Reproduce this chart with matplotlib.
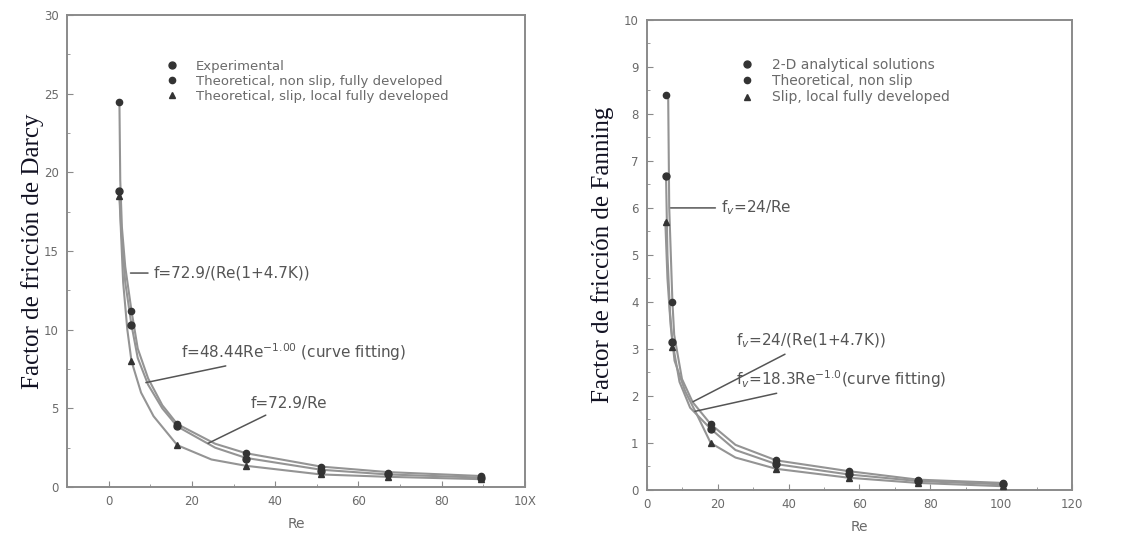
import matplotlib.pyplot as plt
from matplotlib.ticker import MultipleLocator

# ---- left panel data (Darcy) ----
re_darcy = [2.6, 5.5, 16.5, 33, 51, 67, 89.5]
f_exp = [18.8, 10.3, 3.9, 1.8, 1.05, 0.8, 0.6]
f_nonslip = [24.5, 11.2, 4.0, 2.15, 1.3, 0.9, 0.7]
f_slip = [18.5, 8.0, 2.66, 1.35, 0.8, 0.65, 0.5]

# curves
curve_up_re = [2.6, 2.8, 3.2, 4.0, 5.5, 7.0, 9.5, 12.9, 16.5, 25.6, 33, 51, 67, 89.5]
curve_up_f = [24.5, 19.5, 16.5, 14.0, 11.2, 8.8, 6.9, 5.2, 4.0, 2.75, 2.15, 1.3, 0.95, 0.7]
curve_mid_re = [2.6, 3.0, 4.0, 5.5, 7.0, 9.5, 12.9, 16.5, 25.6, 33, 51, 67, 89.5]
curve_mid_f = [18.8, 16.5, 13.0, 10.3, 8.2, 6.5, 5.0, 3.85, 2.5, 1.85, 1.1, 0.8, 0.6]
curve_low_re = [2.6, 3.5, 4.5, 5.5, 7.8, 10.8, 16.5, 24.7, 33, 51, 67, 89.5]
curve_low_f = [18.5, 13.0, 10.0, 8.0, 6.0, 4.5, 2.66, 1.75, 1.35, 0.8, 0.65, 0.5]

legend_darcy = ['Experimental', 'Theoretical, non slip, fully developed',
                'Theoretical, slip, local fully developed']

# ---- right panel data (Fanning) ----
re_fan = [5.4, 7.2, 18, 36.5, 57, 76.5, 100.5]
f_2d = [6.67, 3.15, 1.3, 0.55, 0.33, 0.19, 0.12]
f_fan_nonslip = [8.4, 4.0, 1.4, 0.63, 0.4, 0.22, 0.15]
f_fan_slip = [5.7, 3.05, 1.0, 0.45, 0.26, 0.15, 0.08]

fan_a_re = [6.0, 6.3, 7.2, 7.7, 9.9, 12.9, 18, 25, 36.5, 57, 76.5, 100.5]
fan_a_f = [8.4, 6.0, 4.0, 3.3, 2.36, 1.87, 1.4, 0.96, 0.63, 0.4, 0.22, 0.15]
fan_b_re = [5.4, 5.8, 6.5, 7.2, 9.2, 12.2, 18, 25, 36.5, 57, 76.5, 100.5]
fan_b_f = [6.67, 5.0, 3.8, 3.15, 2.3, 1.75, 1.3, 0.85, 0.55, 0.33, 0.19, 0.12]
fan_c_re = [5.2, 5.8, 6.7, 7.8, 10.8, 14.2, 18, 25, 36.5, 57, 76.5, 100.5]
fan_c_f = [5.7, 4.5, 3.5, 2.75, 2.1, 1.59, 1.0, 0.69, 0.45, 0.26, 0.15, 0.08]

legend_fan = ['2-D analytical solutions', 'Theoretical, non slip',
              'Slip, local fully developed']

line_col = '#949494'
mark_col = '#333333'
text_col = '#6a6a6a'
note_col = '#555555'
serif = ['Liberation Serif', 'DejaVu Serif']

fig = plt.figure(figsize=(11.29, 5.46), dpi=100)
ax1 = fig.add_axes([0.0593, 0.108, 0.4057, 0.8645])
ax2 = fig.add_axes([0.573, 0.1026, 0.3765, 0.861])


def style_axes(ax):
    for s in ax.spines.values():
        s.set_color('#8a8a8a')
        s.set_linewidth(1.4)
    ax.tick_params(which='both', direction='in', colors='#8a8a8a',
                   labelcolor=text_col, labelsize=8.5)
    ax.tick_params(which='major', length=4, pad=6)
    ax.tick_params(which='minor', length=2)


# ---- left panel ----
for xs, ys in [(curve_up_re, curve_up_f), (curve_mid_re, curve_mid_f),
               (curve_low_re, curve_low_f)]:
    ax1.plot(xs, ys, color=line_col, lw=1.5, zorder=2)
ax1.plot(re_darcy, f_exp, 'o', color=mark_col, ms=5, ls='none', zorder=3, label=legend_darcy[0])
ax1.plot(re_darcy, f_nonslip, 'o', color=mark_col, ms=4.5, ls='none', zorder=3, label=legend_darcy[1])
ax1.plot(re_darcy, f_slip, '^', color=mark_col, ms=4.5, ls='none', zorder=3, label=legend_darcy[2])

ax1.set_xlim(-10, 100)
ax1.set_ylim(0, 30)
ax1.xaxis.set_minor_locator(MultipleLocator(10))
ax1.yaxis.set_major_locator(MultipleLocator(5))
ax1.yaxis.set_minor_locator(MultipleLocator(2.5))
ax1.set_xticks([0, 20, 40, 60, 80, 100])
ax1.set_xticklabels(['0', '20', '40', '60', '80', '10X'])
style_axes(ax1)
ax1.set_xlabel('Re', color=text_col, fontsize=10, labelpad=6)
ax1.set_ylabel('Factor de fricción de Darcy', family=serif, fontsize=18,
               color='#111122', labelpad=0)
ax1.legend(loc='upper left', bbox_to_anchor=(0.19, 0.93), frameon=False,
           fontsize=9.5, labelcolor=text_col, handletextpad=1.3, labelspacing=0.15,
           handlelength=1)

arrow = dict(arrowstyle='-', color=note_col, lw=1.1)
ax1.annotate('f=72.9/(Re(1+4.7K))', xy=(4.6, 13.6), xytext=(10.8, 13.6),
             va='center', fontsize=11, color=note_col, arrowprops=arrow)
ax1.annotate('f=48.44Re$^{-1.00}$ (curve fitting)', xy=(8.3, 6.6), xytext=(17.4, 8.6),
             va='center', fontsize=11, color=note_col, arrowprops=arrow)
ax1.annotate('f=72.9/Re', xy=(23.3, 2.7), xytext=(34.2, 5.3),
             va='center', fontsize=11, color=note_col, arrowprops=arrow)

# ---- right panel ----
for xs, ys in [(fan_a_re, fan_a_f), (fan_b_re, fan_b_f), (fan_c_re, fan_c_f)]:
    ax2.plot(xs, ys, color=line_col, lw=1.5, zorder=2)
ax2.plot(re_fan, f_2d, 'o', color=mark_col, ms=5, ls='none', zorder=3, label=legend_fan[0])
ax2.plot(re_fan, f_fan_nonslip, 'o', color=mark_col, ms=4.5, ls='none', zorder=3, label=legend_fan[1])
ax2.plot(re_fan, f_fan_slip, '^', color=mark_col, ms=4.5, ls='none', zorder=3, label=legend_fan[2])

ax2.set_xlim(0, 120)
ax2.set_ylim(0, 10)
ax2.xaxis.set_major_locator(MultipleLocator(20))
ax2.xaxis.set_minor_locator(MultipleLocator(10))
ax2.yaxis.set_major_locator(MultipleLocator(1))
ax2.yaxis.set_minor_locator(MultipleLocator(0.5))
style_axes(ax2)
ax2.set_xlabel('Re', color=text_col, fontsize=10, labelpad=6)
ax2.set_ylabel('Factor de fricción de Fanning', family=serif, fontsize=18,
               color='#111122', labelpad=7)
ax2.legend(loc='upper left', bbox_to_anchor=(0.19, 0.945), frameon=False,
           fontsize=10, labelcolor=text_col, handletextpad=1.3, labelspacing=0.15,
           handlelength=1)

ax2.annotate('f$_v$=24/Re', xy=(5.9, 6.0), xytext=(20.9, 6.0),
             va='center', fontsize=11, color=note_col, arrowprops=arrow)
ax2.annotate('f$_v$=24/(Re(1+4.7K))', xy=(12.3, 1.85), xytext=(25.1, 3.17),
             va='center', fontsize=11, color=note_col, arrowprops=arrow)
ax2.annotate('f$_v$=18.3Re$^{-1.0}$(curve fitting)', xy=(12.8, 1.66), xytext=(25.1, 2.36),
             va='center', fontsize=11, color=note_col, arrowprops=arrow)

fig.savefig('out.png', dpi=100)
